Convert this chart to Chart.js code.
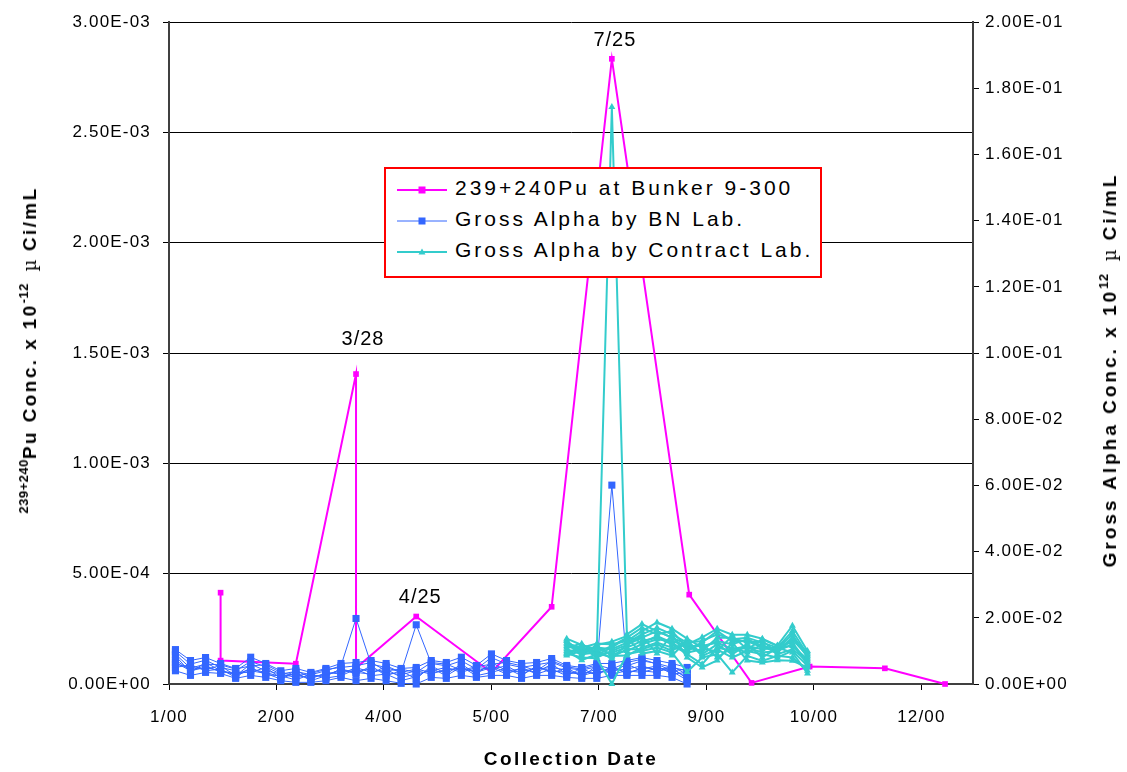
<!DOCTYPE html>
<html>
<head>
<meta charset="utf-8">
<script src="https://cdn.jsdelivr.net/npm/chart.js@4.4.1/dist/chart.umd.min.js"></script>
<style>
  body { margin: 0; background: #fff; font-family: 'Liberation Sans', Arial, sans-serif; }
  #wrap { position: relative; width: 1127px; height: 772px; overflow: hidden; }
  #chart { position: absolute; left: 0; top: 0; }
  .title { position: absolute; font-weight: bold; font-size: 19px; letter-spacing: 2.4px; white-space: nowrap; color: #000; line-height: 1; }
  .title sup { font-size: 13px; vertical-align: 8px; letter-spacing: 0.5px; }
  .vtitle { transform: translate(-50%, -50%) rotate(-90deg); }
  .htitle { transform: translate(-50%, -50%); }
  .mu { font-family: 'DejaVu Serif', serif; font-weight: normal; font-size: 18px; margin: 0 6px 0 4px; }
  #legend { position: absolute; left: 384px; top: 167px; width: 434px; height: 102px; border: 2px solid #ff0000; background: #fff; padding-top: 5px; box-sizing: content-box; }
  #legend .row { display: flex; align-items: center; height: 31px; }
  #legend svg { margin-left: 7px; flex: none; }
  #legend span { font-size: 21px; letter-spacing: 3px; margin-left: 4px; line-height: 1; position: relative; top: -2px; }
</style>
</head>
<body>
<div id="wrap">
  <canvas id="chart" width="1127" height="772"></canvas>
  <div class="title vtitle" style="left:28px; top:350px;"><sup>239+240</sup>Pu Conc. x 10<sup>-12</sup> <span class="mu">µ</span>Ci/mL</div>
  <div class="title vtitle" style="left:1108px; top:370px; letter-spacing:3px;">Gross Alpha Conc. x 10<sup>12</sup> <span class="mu">µ</span>Ci/mL</div>
  <div class="title htitle" style="left:571px; top:758px;">Collection Date</div>
  <div id="legend"></div>
</div>
<script>
// Series names (legend)
const seriesNames = ['239+240Pu at Bunker 9-300', 'Gross Alpha by BN Lab.', 'Gross Alpha by Contract Lab.'];

// 239+240Pu at Bunker 9-300 (left axis)
const puDates = ['2000-01-25', '2000-01-25', '2000-02-29', '2000-03-28', '2000-03-28', '2000-04-25', '2000-05-30',
    '2000-06-27', '2000-07-25', '2000-08-30', '2000-09-28', '2000-10-25', '2000-11-29', '2000-12-27'];
const puValues = [4.14e-4, 1.06e-4, 9.2e-5, 1.405e-3, 7.2e-5, 3.06e-4, 5.2e-5,
    3.5e-4, 2.834e-3, 4.05e-4, 5e-6, 7.9e-5, 7.1e-5, 0];

// Gross alpha by BN Lab. (right axis), weekly samples, one array per sampler
const bnDates = ['2000-01-04', '2000-01-11', '2000-01-18', '2000-01-25', '2000-02-01', '2000-02-08', '2000-02-15',
    '2000-02-22', '2000-02-29', '2000-03-07', '2000-03-14', '2000-03-21', '2000-03-28', '2000-04-04', '2000-04-11',
    '2000-04-18', '2000-04-25', '2000-05-02', '2000-05-09', '2000-05-16', '2000-05-23', '2000-05-30', '2000-06-06',
    '2000-06-13', '2000-06-20', '2000-06-27', '2000-07-04', '2000-07-11', '2000-07-18', '2000-07-25', '2000-08-01',
    '2000-08-08', '2000-08-15', '2000-08-22', '2000-08-29'];
const bnSet1 = [.0098, .0060, .0072, .0050, .0040, .0068, .0052, .0030, .0038, .0028, .0040, .0055, .0198, .0060, .0050,
    .0035, .0179, .0062, .0055, .0070, .0045, .0080, .0060, .0050, .0058, .0066, .0048, .0042, .0052, .0601, .0055,
    .0070, .0062, .0050, .0040];
const bnSet2 = [.0104, .0071, .0080, .0062, .0047, .0081, .0062, .0040, .0047, .0035, .0047, .0062, .0065, .0071, .0062,
    .0047, .0050, .0071, .0065, .0081, .0056, .0091, .0071, .0062, .0065, .0077, .0056, .0050, .0062, .0062, .0071,
    .0080, .0071, .0062, .0050];
const bnSet3 = [.0040, .0026, .0035, .0032, .0017, .0026, .0020, .0010, .0005, .0005, .0010, .0020, .0010, .0017, .0010,
    .0002, .0000, .0020, .0017, .0026, .0020, .0026, .0026, .0017, .0026, .0026, .0020, .0017, .0017, .0026, .0026,
    .0026, .0026, .0020, .0000];
const bnSet4 = [.0085, .0035, .0065, .0040, .0030, .0045, .0035, .0022, .0030, .0015, .0035, .0030, .0050, .0035, .0045,
    .0020, .0030, .0040, .0050, .0035, .0050, .0045, .0055, .0030, .0050, .0040, .0035, .0030, .0045, .0040, .0045,
    .0055, .0040, .0045, .0020];
const bnSet5 = [.0060, .0050, .0045, .0055, .0025, .0060, .0040, .0030, .0020, .0025, .0025, .0045, .0030, .0055, .0025,
    .0040, .0015, .0055, .0030, .0060, .0030, .0065, .0040, .0045, .0035, .0060, .0030, .0038, .0030, .0050, .0035,
    .0045, .0055, .0030, .0035];
const bnSet6 = [.0072, .0042, .0055, .0036, .0035, .0035, .0050, .0018, .0040, .0020, .0030, .0038, .0040, .0045, .0035,
    .0028, .0040, .0030, .0045, .0045, .0038, .0055, .0035, .0040, .0045, .0050, .0042, .0025, .0038, .0035, .0060,
    .0040, .0035, .0055, .0028];
const bnSet7 = [.0050, .0058, .0040, .0045, .0020, .0050, .0028, .0025, .0012, .0030, .0018, .0025, .0045, .0025, .0030,
    .0010, .0022, .0048, .0025, .0052, .0025, .0035, .0048, .0025, .0055, .0032, .0050, .0022, .0055, .0030, .0040,
    .0035, .0048, .0038, .0012];
const bnSet8 = [.0090, .0048, .0060, .0058, .0045, .0055, .0058, .0035, .0025, .0032, .0044, .0050, .0055, .0065, .0040,
    .0045, .0035, .0065, .0060, .0042, .0052, .0060, .0065, .0055, .0040, .0070, .0052, .0045, .0058, .0045, .0065,
    .0075, .0060, .0040, .0045];
const bnSet9 = [.0065, .0040, .0050, .0040, .0028, .0040, .0032, .0015, .0035, .0010, .0025, .0045, .0035, .0030, .0055,
    .0035, .0045, .0035, .0040, .0050, .0035, .0050, .0030, .0050, .0030, .0045, .0025, .0048, .0025, .0055, .0030,
    .0050, .0045, .0050, .0015];
const bnSets = [bnSet1, bnSet2, bnSet3, bnSet4, bnSet5, bnSet6, bnSet7, bnSet8, bnSet9];

// Gross alpha by contract lab (right axis)
const caDates = ['2000-07-04', '2000-07-11', '2000-07-18', '2000-07-25', '2000-08-01', '2000-08-08', '2000-08-15',
    '2000-08-22', '2000-08-29', '2000-09-05', '2000-09-12', '2000-09-19', '2000-09-26', '2000-10-03', '2000-10-10',
    '2000-10-17', '2000-10-24'];
const caSet1 = [.0137, .0118, .0105, .1744, .0150, .0181, .0160, .0140, .0120, .0141, .0167, .0149, .0149, .0137, .0116, .0176, .0100];
const caSet2 = [.0092, .0080, .0078, .0000, .0090, .0100, .0110, .0095, .0036, .0080, .0090, .0035, .0085, .0070, .0085, .0080, .0040];
const caSet3 = [.0120, .0110, .0122, .0120, .0130, .0160, .0186, .0167, .0137, .0110, .0130, .0120, .0135, .0115, .0105, .0150, .0080];
const caSet4 = [.0100, .0072, .0090, .0095, .0110, .0130, .0140, .0120, .0090, .0060, .0110, .0100, .0110, .0095, .0100, .0120, .0060];
const caSet5 = [.0130, .0095, .0115, .0085, .0086, .0110, .0125, .0110, .0100, .0122, .0080, .0110, .0095, .0120, .0090, .0105, .0070];
const caSet6 = [.0110, .0122, .0088, .0110, .0140, .0092, .0100, .0086, .0131, .0090, .0120, .0090, .0120, .0080, .0110, .0095, .0032];
const caSet7 = [.0086, .0100, .0100, .0077, .0120, .0145, .0092, .0150, .0080, .0050, .0071, .0125, .0071, .0065, .0072, .0070, .0050];
const caSet8 = [.0125, .0105, .0110, .0105, .0125, .0150, .0170, .0150, .0125, .0130, .0150, .0135, .0140, .0125, .0110, .0160, .0090];
const caSet9 = [.0105, .0090, .0095, .0115, .0140, .0170, .0150, .0160, .0110, .0100, .0140, .0140, .0125, .0130, .0095, .0135, .0085];
const caSet10 = [.0115, .0100, .0108, .0090, .0100, .0120, .0135, .0130, .0115, .0115, .0125, .0105, .0115, .0105, .0110, .0115, .0075];
const caSet11 = [.0095, .0112, .0080, .0100, .0118, .0140, .0160, .0140, .0105, .0125, .0160, .0130, .0130, .0110, .0100, .0140, .0095];
const caSet12 = [.0132, .0085, .0118, .0128, .0145, .0125, .0145, .0125, .0095, .0105, .0100, .0145, .0105, .0135, .0115, .0125, .0065];
const caSet13 = [.0090, .0108, .0092, .0082, .0105, .0105, .0120, .0100, .0130, .0085, .0105, .0080, .0100, .0090, .0080, .0100, .0055];
const caSets = [caSet1, caSet2, caSet3, caSet4, caSet5, caSet6, caSet7, caSet8, caSet9, caSet10, caSet11, caSet12, caSet13];

// Axis ticks
const xTickDates = ['2000-01-01', '2000-02-20', '2000-04-10', '2000-05-30', '2000-07-19', '2000-09-07', '2000-10-27', '2000-12-16'];
const xTickLabels = ['1/00', '2/00', '4/00', '5/00', '7/00', '9/00', '10/00', '12/00'];
const xEndDate = '2001-01-09';
const puTicks = [0, 5e-4, 1e-3, 1.5e-3, 2e-3, 2.5e-3, 3e-3];
const puTickLabels = ['0.00E+00', '5.00E-04', '1.00E-03', '1.50E-03', '2.00E-03', '2.50E-03', '3.00E-03'];
const alphaTicks = [0, .02, .04, .06, .08, .1, .12, .14, .16, .18, .2];
const alphaTickLabels = ['0.00E+00', '2.00E-02', '4.00E-02', '6.00E-02', '8.00E-02', '1.00E-01',
    '1.20E-01', '1.40E-01', '1.60E-01', '1.80E-01', '2.00E-01'];

// Date notes above the Pu peaks
const noteLabels = ['3/28', '4/25', '7/25'];
const noteDates = ['2000-03-28', '2000-04-25', '2000-07-25'];
const noteValues = [1.405e-3, 3.06e-4, 2.834e-3];

const colorPu = '#FF00FF';
const colorBn = '#3366FF';
const colorCa = '#33CCCC';
const tickFont = { family: "'Liberation Sans', Arial, sans-serif", size: 17 };

// days since 1 Jan 2000
const toDay = s => (Date.UTC(+s.slice(0, 4), +s.slice(5, 7) - 1, +s.slice(8, 10)) - Date.UTC(2000, 0, 1)) / 86400000;
const toPoints = (dates, vals) => vals.map((v, i) => ({ x: toDay(dates[i]), y: v }));

const datasets = [];
datasets.push({
    label: seriesNames[0],
    data: toPoints(puDates, puValues),
    yAxisID: 'yPu',
    borderColor: colorPu,
    backgroundColor: colorPu,
    borderWidth: 2,
    pointStyle: 'rect',
    pointRadius: 4,
    pointBorderWidth: 0,
    order: 3
});
bnSets.forEach(set => datasets.push({
    label: seriesNames[1],
    data: toPoints(bnDates, set),
    yAxisID: 'yAlpha',
    borderColor: colorBn,
    backgroundColor: colorBn,
    borderWidth: 1,
    pointStyle: 'rect',
    pointRadius: 5,
    pointBorderWidth: 0,
    order: 2
}));
caSets.forEach(set => datasets.push({
    label: seriesNames[2],
    data: toPoints(caDates, set),
    yAxisID: 'yAlpha',
    borderColor: colorCa,
    backgroundColor: colorCa,
    borderWidth: 2,
    pointStyle: 'triangle',
    pointRadius: 4,
    pointBorderWidth: 0,
    order: 1
}));

// wider glyph spacing like the original rendering
const spacing = {
    id: 'spacing',
    beforeDraw(chart) { chart.ctx.letterSpacing = '1.2px'; }
};

const noteText = {
    id: 'noteText',
    afterDatasetsDraw(chart) {
        const offsets = [[7, -35], [4, -19], [3, -18]];
        const { ctx, scales } = chart;
        ctx.save();
        ctx.font = "20px 'Liberation Sans', Arial, sans-serif";
        ctx.letterSpacing = '1px';
        ctx.fillStyle = '#000';
        ctx.textAlign = 'center';
        ctx.textBaseline = 'middle';
        noteLabels.forEach((t, i) => {
            const x = scales.x.getPixelForValue(toDay(noteDates[i])) + offsets[i][0];
            const y = scales.yPu.getPixelForValue(noteValues[i]) + offsets[i][1];
            ctx.fillText(t, x, y);
        });
        ctx.restore();
    }
};

const axisLine = { display: true, color: '#404040', width: 2 };

new Chart(document.getElementById('chart'), {
    type: 'line',
    data: { datasets },
    plugins: [spacing, noteText],
    options: {
        responsive: false,
        animation: false,
        devicePixelRatio: 1,
        layout: { padding: { top: 20, left: 0, right: 0, bottom: 0 } },
        elements: { line: { tension: 0 } },
        datasets: { line: { clip: false } },
        plugins: { legend: { display: false }, tooltip: { enabled: false } },
        scales: {
            x: {
                type: 'linear',
                min: 0,
                max: toDay(xEndDate),
                afterBuildTicks: s => { s.ticks = xTickDates.map(d => ({ value: toDay(d) })); },
                afterFit: s => { s.height = 88; },
                grid: { drawOnChartArea: false, tickLength: 6, color: '#000', lineWidth: 1 },
                border: axisLine,
                ticks: {
                    color: '#000', font: tickFont, padding: 17, maxRotation: 0, autoSkip: false,
                    callback: (v, i) => xTickLabels[i]
                }
            },
            yPu: {
                type: 'linear',
                position: 'left',
                min: 0,
                max: 3e-3,
                afterBuildTicks: s => { s.ticks = puTicks.map(v => ({ value: v })); },
                afterFit: s => { s.width = 169; },
                grid: { color: '#000', lineWidth: 1, tickLength: 6 },
                border: axisLine,
                ticks: { color: '#000', font: tickFont, padding: 12, callback: (v, i) => puTickLabels[i] }
            },
            yAlpha: {
                type: 'linear',
                position: 'right',
                min: 0,
                max: 0.2,
                afterBuildTicks: s => { s.ticks = alphaTicks.map(v => ({ value: v })); },
                afterFit: s => { s.width = 154; },
                grid: { drawOnChartArea: false, color: '#000', lineWidth: 1, tickLength: 6 },
                border: axisLine,
                ticks: { color: '#000', font: tickFont, padding: 6, callback: (v, i) => alphaTickLabels[i] }
            }
        }
    }
});

// Legend built from the series list
const legendStyles = [
    { color: colorPu, width: 2, shape: 'rect' },
    { color: colorBn, width: 1, shape: 'rect' },
    { color: colorCa, width: 2, shape: 'triangle' }
];
const legend = document.getElementById('legend');
seriesNames.forEach((name, i) => {
    const st = legendStyles[i];
    const mark = st.shape === 'rect'
        ? `<rect x="25.5" y="11.5" width="7" height="7" fill="${st.color}"/>`
        : `<polygon points="29,11.5 32.5,17.5 25.5,17.5" fill="${st.color}"/>`;
    const row = document.createElement('div');
    row.className = 'row';
    row.innerHTML = `<svg width="58" height="30"><line x1="4" y1="15" x2="54" y2="15" stroke="${st.color}" stroke-width="${st.width}"/>${mark}</svg><span>${name}</span>`;
    legend.appendChild(row);
});
</script>
</body>
</html>
